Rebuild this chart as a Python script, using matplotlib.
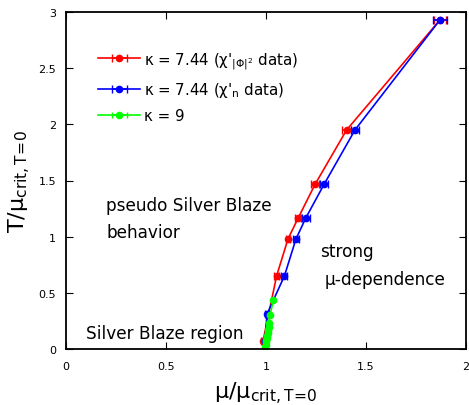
import numpy as np
import matplotlib
matplotlib.use('Agg')
import matplotlib.pyplot as plt

# ---- data ----
# kappa = 7.44, chi'_{|Phi|^2}
mu_red = [0.985, 1.053, 1.110, 1.162, 1.245, 1.403, 1.870]
mu_red_err = [0.008, 0.012, 0.012, 0.015, 0.018, 0.022, 0.030]
T_red = [0.07, 0.65, 0.98, 1.17, 1.465, 1.95, 2.93]

# kappa = 7.44, chi'_n
mu_blue = [0.995, 1.005, 1.092, 1.150, 1.200, 1.290, 1.445, 1.870]
mu_blue_err = [0.008, 0.010, 0.015, 0.015, 0.018, 0.020, 0.022, 0.035]
T_blue = [0.07, 0.31, 0.65, 0.98, 1.17, 1.465, 1.95, 2.93]

# kappa = 9
mu_green = [0.995, 0.997, 0.999, 1.000, 1.002, 1.004, 1.006, 1.008, 1.010, 1.013, 1.015, 1.020, 1.037]
mu_green_err = [0.003] * 13
T_green = [0.0, 0.02, 0.04, 0.06, 0.08, 0.10, 0.12, 0.14, 0.17, 0.20, 0.23, 0.30, 0.434]

fig = plt.figure(figsize=(4.69, 4.06), dpi=100)
ax = fig.add_axes([66/469, 56/406, 400/469, 337/406])

ax.errorbar(mu_red, T_red, xerr=mu_red_err, color='red', marker='o', ms=4.5,
            capsize=3, lw=1.2, label="κ = 7.44 (χ'$_{|\\Phi|^2}$ data)")
ax.errorbar(mu_blue, T_blue, xerr=mu_blue_err, color='blue', marker='o', ms=4.5,
            capsize=3, lw=1.2, label="κ = 7.44 (χ'$_{\\rm n}$ data)")
ax.errorbar(mu_green, T_green, xerr=mu_green_err, color='#00ff00', marker='o', ms=4.5,
            capsize=2, lw=1.2, label='κ = 9')

ax.set_xlim(0, 2)
ax.set_ylim(0, 3)
ax.set_xticks([0, 0.5, 1, 1.5, 2])
ax.set_xticklabels(['0', '0.5', '1', '1.5', '2'])
ax.set_yticks([0, 0.5, 1, 1.5, 2, 2.5, 3])
ax.set_yticklabels(['0', '0.5', '1', '1.5', '2', '2.5', '3'])
ax.tick_params(direction='in', top=True, right=True, labelsize=8, length=5)
ax.tick_params(axis='x', pad=9)
ax.tick_params(axis='y', pad=7)
for s in ax.spines.values():
    s.set_linewidth(1.3)

ax.set_xlabel('μ/μ$_{\\rm crit,T\\!=\\!0}$', fontsize=16, labelpad=6)
ax.set_ylabel('T/μ$_{\\rm crit,T\\!=\\!0}$', fontsize=16, labelpad=4)

ax.text(0.2, 1.28, 'pseudo Silver Blaze', fontsize=12.2, va='center')
ax.text(0.2, 1.04, 'behavior', fontsize=12.2, va='center')
ax.text(1.27, 0.87, 'strong', fontsize=12.2, va='center')
ax.text(1.295, 0.62, 'μ-dependence', fontsize=12.2, va='center')
ax.text(0.1, 0.145, 'Silver Blaze region', fontsize=12.2, va='center')

ax.legend(loc='upper left', bbox_to_anchor=(0.065, 0.905), frameon=False, fontsize=10.8,
          handlelength=2.8, handletextpad=0.3, labelspacing=0.6, borderaxespad=0)

fig.savefig('out.png', dpi=100)
